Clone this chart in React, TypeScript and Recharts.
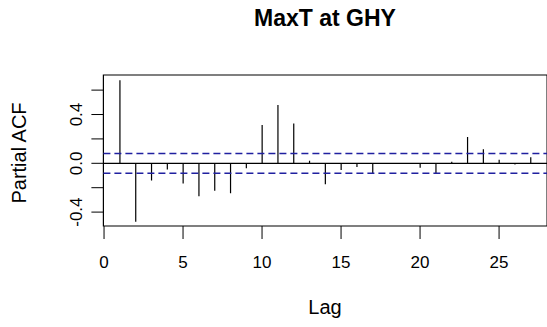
import React from 'react';
import { ComposedChart, Bar, XAxis, YAxis, ReferenceLine, ReferenceArea } from 'recharts';

// PACF of daily max temperature at GHY, lags 1..27
const lags = [1, 2, 3, 4, 5, 6, 7, 8, 9, 10, 11, 12, 13, 14, 15, 16, 17, 18, 19, 20, 21, 22, 23, 24, 25, 26, 27];
const pacfValues = [
  0.68, -0.48, -0.14, -0.05, -0.165, -0.27, -0.225, -0.245, -0.04, 0.315,
  0.478, 0.327, 0.02, -0.172, -0.055, -0.03, -0.08, 0.003, -0.005, -0.036,
  -0.088, 0.012, 0.215, 0.115, 0.03, -0.01, 0.05,
];
const confBound = 0.081;

const xTicks = [0, 5, 10, 15, 20, 25];
const yTicks = [-0.4, -0.2, 0, 0.2, 0.4, 0.6];
const yTickLabels = [-0.4, 0, 0.4];
const xDomain = [-0.04, 28.04];
const yDomain = [-0.514, 0.724];

const data = lags.map((lag, i) => ({ lag, pacf: pacfValues[i] }));

const FONT = '"Liberation Sans", Arial, Helvetica, sans-serif';

const Stem = (props: any) => {
  const { x, y, width, height } = props;
  const cx = x + width / 2;
  return <line x1={cx} x2={cx} y1={y} y2={y + height} stroke="#000" strokeWidth={1.2} />;
};

const XTick = ({ x, payload }: any) => (
  <text x={x} y={268} textAnchor="middle" fontSize={17} fontFamily={FONT} fill="#000">
    {payload.value}
  </text>
);

const YTick = ({ y, payload }: any) => {
  if (!yTickLabels.includes(payload.value)) return <g />;
  return (
    <text
      x={82}
      y={y}
      transform={`rotate(-90, 82, ${y})`}
      textAnchor="middle"
      fontSize={17}
      fontFamily={FONT}
      fill="#000"
    >
      {payload.value.toFixed(1)}
    </text>
  );
};

const XTitle = () => (
  <text x={325} y={314} textAnchor="middle" fontSize={20} fontFamily={FONT} fill="#000">
    Lag
  </text>
);

const YTitle = () => (
  <text
    x={26}
    y={153}
    transform="rotate(-90, 26, 153)"
    textAnchor="middle"
    fontSize={20}
    fontFamily={FONT}
    fill="#000"
  >
    Partial ACF
  </text>
);

export default function App() {
  return (
    <div
      style={{
        position: 'absolute',
        left: 0,
        top: 0,
        width: 547,
        height: 327,
        overflow: 'hidden',
        background: '#fff',
      }}
    >
      <div
        style={{
          position: 'absolute',
          left: 0,
          top: 7,
          width: 650,
          textAlign: 'center',
          fontFamily: FONT,
          fontWeight: 'bold',
          fontSize: 23,
          lineHeight: '23px',
          color: '#000',
        }}
      >
        MaxT at GHY
      </div>
      <ComposedChart
        width={560}
        height={327}
        data={data}
        margin={{ top: 75, right: 12.9, bottom: 41, left: 0 }}
      >
        <XAxis
          dataKey="lag"
          type="number"
          domain={xDomain}
          ticks={xTicks}
          allowDataOverflow
          height={60}
          tickSize={13}
          tickLine={{ stroke: '#000' }}
          axisLine={false}
          tick={<XTick />}
          label={<XTitle />}
        />
        <YAxis
          type="number"
          domain={yDomain}
          ticks={yTicks}
          allowDataOverflow
          width={103.4}
          tickSize={12}
          tickLine={{ stroke: '#000' }}
          axisLine={false}
          tick={<YTick />}
          label={<YTitle />}
        />
        <ReferenceArea
          x1={xDomain[0]}
          x2={xDomain[1]}
          y1={yDomain[0]}
          y2={yDomain[1]}
          fill="none"
          stroke="#000"
          strokeWidth={1.2}
          ifOverflow="visible"
        />
        <ReferenceLine y={0} stroke="#000" strokeWidth={1.2} />
        <ReferenceLine y={confBound} stroke="#2020a0" strokeWidth={1.4} strokeDasharray="7 4" />
        <ReferenceLine y={-confBound} stroke="#2020a0" strokeWidth={1.4} strokeDasharray="7 4" />
        <Bar dataKey="pacf" barSize={2} shape={<Stem />} isAnimationActive={false} />
      </ComposedChart>
    </div>
  );
}
